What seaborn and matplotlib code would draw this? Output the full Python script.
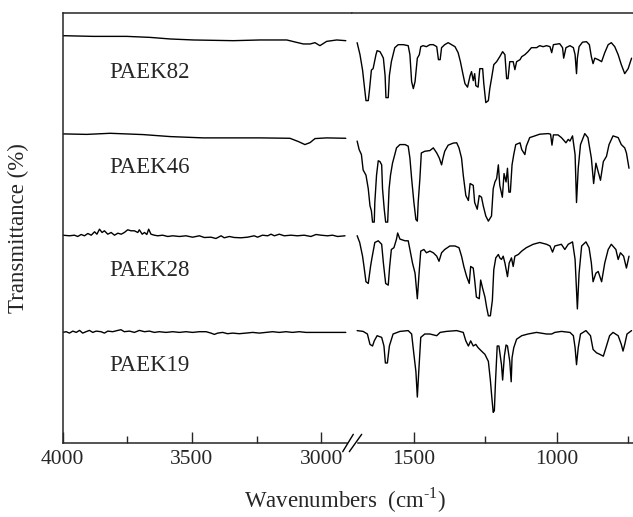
import pandas as pd
import matplotlib.pyplot as plt
from matplotlib.lines import Line2D
from matplotlib.ticker import MultipleLocator
import seaborn as sns

# FTIR spectra of four PAEK samples.
# Left panel: 4000-2900 cm-1, right panel: 1700-740 cm-1.
SAMPLES = ["PAEK82", "PAEK46", "PAEK28", "PAEK19"]
OFFSETS = [306, 211, 108, 12]          # vertical stacking of the spectra
LABEL_Y = [371, 276, 173, 78]

# --- high wavenumber region ---
wn_hi_82 = [4000, 3881, 3752, 3662, 3584, 3494, 3340, 3237, 3133, 3095, 3069, 3043, 3024, 3005, 2979, 2940, 2905]
t_hi_82 = [102, 101.3, 101.3, 100.3, 98.7, 97.7, 97, 97.7, 97.7, 95.3, 93.7, 93.7, 95, 92, 96.3, 97.7, 97]

wn_hi_46 = [4000, 3906, 3816, 3688, 3584, 3456, 3237, 3121, 3088, 3063, 3043, 3024, 2979, 2905]
t_hi_46 = [98.7, 98.2, 99.3, 98, 96, 94.7, 94.7, 94.3, 91, 88, 90, 94, 94.7, 94.3]

wn_hi_28 = [3999, 3973, 3954, 3941, 3928, 3915, 3902, 3889, 3876, 3867, 3857, 3847, 3838, 3825,
            3812, 3799, 3786, 3773, 3761, 3748, 3735, 3722, 3709, 3703, 3692, 3683, 3674, 3667,
            3658, 3645, 3632, 3613, 3593, 3574, 3548, 3523, 3497, 3471, 3452, 3426, 3407, 3387,
            3375, 3355, 3336, 3310, 3285, 3259, 3246, 3227, 3207, 3194, 3181, 3162, 3143, 3117,
            3092, 3066, 3040, 3020, 3001, 2976, 2956, 2937, 2908]
t_hi_28 = [100.3, 99.7, 100.3, 99, 101, 99.7, 102, 100.3, 103.7, 101.3, 106.3, 103, 104.7, 101.3,
           103, 100.3, 102.3, 101.3, 103, 105.7, 104.7, 104.7, 103, 105.7, 101.3, 103, 101, 106.3,
           101.3, 100.3, 99.7, 100.3, 99, 99.7, 99, 99.7, 98.3, 99.7, 98, 98.3, 97, 99.7,
           97.7, 99, 98, 97.7, 98.3, 99.7, 98.3, 100.3, 99.7, 101.3, 99.7, 101.3, 99.7, 100.3,
           99.7, 100.3, 99, 101, 100.3, 99.7, 100.3, 99, 99.7]

wn_hi_19 = [3999, 3986, 3973, 3960, 3947, 3934, 3922, 3909, 3896, 3883, 3870, 3851, 3838, 3825,
            3806, 3786, 3774, 3761, 3741, 3722, 3703, 3683, 3664, 3645, 3626, 3600, 3574, 3548,
            3523, 3497, 3471, 3445, 3426, 3413, 3400, 3381, 3362, 3342, 3317, 3291, 3265, 3239,
            3214, 3188, 3162, 3136, 3111, 3085, 3059, 3033, 2982, 2905]
t_hi_19 = [99, 99.7, 98.3, 100.3, 99, 101, 98.3, 99.7, 101, 99, 100.3, 99.7, 98.3, 100.3,
           99.7, 101, 101.7, 99.7, 100.3, 99, 101, 99.7, 100.3, 99, 99.7, 99, 99.7, 99,
           99.7, 99, 99.7, 99.7, 98.3, 97, 98.3, 99, 97.7, 98.3, 97.7, 98.3, 99, 98.3,
           99, 99.7, 99, 99.7, 99, 99.7, 99, 99, 99, 99]

# --- fingerprint region ---
wn_lo_82 = [1699, 1689, 1680, 1672, 1668, 1660, 1656, 1649, 1643, 1633, 1629, 1619, 1613, 1607,
            1601, 1598, 1590, 1586, 1579, 1573, 1567, 1555, 1537, 1520, 1514, 1508, 1502, 1496,
            1488, 1481, 1476, 1468, 1456, 1444, 1432, 1420, 1414, 1408, 1403, 1392, 1380, 1368,
            1356, 1345, 1337, 1327, 1321, 1312, 1303, 1298, 1292, 1287, 1283, 1275, 1269, 1259,
            1255, 1248, 1239, 1234, 1228, 1220, 1210, 1199, 1189, 1181, 1175, 1170, 1164, 1152,
            1146, 1140, 1128, 1122, 1111, 1100, 1088, 1070, 1059, 1047, 1035, 1023, 1017, 1011,
            989, 979, 975, 967, 953, 941, 935, 930, 927, 921, 909, 895, 885, 878, 872, 866,
            854, 842, 831, 819, 808, 796, 784, 773, 761, 749, 737]
t_lo_82 = [95, 83, 67.6, 47, 37, 37, 47, 67.6, 69, 83, 87, 86, 83, 79.5,
           62, 40, 40, 62, 76, 83, 90, 93, 93, 92, 83, 56, 49, 56,
           79.5, 83, 91, 92, 91, 93, 93, 91, 78, 78, 90, 93, 95, 93,
           91, 85, 76, 62, 54, 50.5, 62, 66, 57, 64, 52, 50.5, 69, 69,
           54, 35, 37, 49, 59, 73, 76, 81, 86, 83, 59, 59, 76, 76,
           68, 76, 78, 81, 83, 86, 90, 90, 92, 91, 92, 91, 85, 93,
           94, 90, 79.5, 90, 92, 90, 83, 64, 79.5, 91, 95.5, 96, 93, 81, 74, 79.5,
           78, 76, 85, 93, 95, 91, 83, 73, 64, 69, 79.5]

wn_lo_46 = [1699, 1692, 1684, 1678, 1668, 1660, 1654, 1649, 1645, 1639, 1637, 1631, 1625, 1619,
            1613, 1610, 1604, 1599, 1592, 1587, 1582, 1575, 1567, 1561, 1549, 1531, 1520, 1514,
            1508, 1500, 1493, 1488, 1485, 1479, 1474, 1462, 1444, 1432, 1420, 1411, 1403, 1398,
            1392, 1380, 1362, 1350, 1342, 1333, 1327, 1318, 1309, 1303, 1292, 1287, 1278, 1271,
            1263, 1257, 1248, 1239, 1228, 1222, 1216, 1210, 1204, 1199, 1190, 1184, 1177, 1172,
            1167, 1162, 1156, 1150, 1143, 1128, 1122, 1111, 1106, 1094, 1076, 1059, 1029, 1021,
            1016, 1011, 995, 983, 967, 959, 953, 944, 935, 930, 924, 916, 901, 890, 878, 870,
            862, 854, 846, 836, 825, 816, 802, 784, 773, 761, 755, 746]
t_lo_46 = [91.5, 83, 78, 62.6, 57.4, 43.8, 26.8, 21.6, 10.4, 10.4, 30, 57.4, 71.8, 71,
           67.7, 43.8, 23.3, 10.4, 10.4, 43.8, 57.4, 69.4, 78, 84.7, 88, 88, 86.4, 74.5,
           54, 30, 13, 11.4, 30, 54, 79.6, 81.3, 82, 84.7, 79.6, 74.5, 67.7, 74.5,
           81.3, 87.4, 89.5, 89.8, 84.7, 74.5, 57.4, 37, 32, 49, 47.2, 30, 23.3, 37,
           35.3, 26.8, 16.5, 11.4, 16.5, 43.8, 50.6, 54, 67.7, 47.2, 35.3, 59, 50.6, 64.3,
           40.4, 40.4, 67.7, 78, 88, 89.8, 83, 78, 86.4, 95, 96.7, 98.4, 99, 98.4,
           87.4, 97.7, 97.7, 95, 89.8, 93.2, 91.5, 96.7, 78, 30, 64.3, 88, 99, 95, 74.5, 49,
           69.4, 60.8, 52.3, 71, 76.2, 88, 96.7, 95, 88, 84.7, 79.6, 64.3]

wn_lo_28 = [1699, 1690, 1680, 1675, 1668, 1660, 1652, 1647, 1637, 1625, 1613, 1607, 1599, 1590,
            1585, 1579, 1570, 1561, 1557, 1549, 1531, 1520, 1514, 1505, 1496, 1488, 1481, 1476,
            1465, 1456, 1444, 1432, 1420, 1412, 1403, 1392, 1374, 1356, 1342, 1333, 1325, 1315,
            1306, 1301, 1292, 1287, 1281, 1271, 1266, 1259, 1251, 1245, 1239, 1232, 1225, 1220,
            1213, 1204, 1199, 1193, 1187, 1181, 1172, 1166, 1158, 1152, 1146, 1134, 1122, 1106,
            1082, 1059, 1035, 1023, 1014, 1006, 983, 971, 959, 944, 935, 930, 927, 921,
            912, 897, 886, 878, 872, 862, 854, 842, 831, 819, 808, 792, 784, 776, 765, 755, 746]
t_lo_28 = [99.8, 93, 79.3, 69, 53.7, 52, 69, 77.6, 93, 94.7, 91.2, 72.5, 52, 50.3,
           69, 86, 87.8, 96.4, 102.5, 96.4, 94.7, 94.7, 86, 72.5, 62.3, 36.7, 65.7, 84.4,
           86, 82.7, 84.4, 82.7, 79.3, 74.2, 82.7, 86, 89.5, 89.5, 87.8, 79.3, 69, 58.8,
           52, 69, 67.4, 55.4, 38.4, 36.7, 55.4, 47, 38.4, 28, 19.6, 19.6, 35, 65.7,
           77.6, 81, 77.6, 76, 79.3, 72.5, 58.8, 72.5, 77.6, 69, 79.3, 81, 84.4, 87.8,
           91.2, 93, 91.2, 89.5, 83.4, 89.5, 91.2, 86, 91.2, 93.6, 76, 45.2, 26.5, 62.3,
           89.5, 93.6, 87.8, 72.5, 53.7, 62.3, 64, 53.7, 72.5, 86, 91.2, 86, 76, 82.7, 79.3, 67.4, 79.3]

wn_lo_19 = [1699, 1678, 1663, 1654, 1645, 1639, 1629, 1613, 1605, 1600, 1593, 1586, 1573, 1549,
            1520, 1508, 1500, 1493, 1488, 1483, 1476, 1462, 1444, 1420, 1408, 1386, 1350, 1327,
            1318, 1309, 1301, 1292, 1283, 1275, 1263, 1251, 1239, 1232, 1227, 1222, 1218, 1214,
            1208, 1202, 1193, 1189, 1183, 1177, 1172, 1164, 1159, 1156, 1150, 1140, 1122, 1100,
            1070, 1035, 1017, 1006, 983, 953, 941, 935, 930, 924, 916, 897, 881, 872, 860, 848,
            836, 825, 814, 802, 784, 773, 767, 761, 753, 737]
t_lo_19 = [100.8, 100, 97.4, 87, 85.4, 90.5, 95.7, 94, 85.4, 68.4, 68.4, 85.4, 97.4, 100,
           100.8, 97.4, 77, 59.8, 34.3, 59.8, 94, 97.4, 97.4, 95.7, 99, 100, 100.8, 99,
           90.5, 85.4, 90.5, 85.4, 87, 83.7, 80.3, 77, 70, 51.3, 34.3, 19, 20.6, 49.6,
           85.4, 85.4, 66.7, 51.3, 75.2, 86.4, 85.4, 70, 49.6, 73.5, 83.7, 92.2, 95.7, 97.4,
           99, 97.4, 97.4, 99, 100, 99, 95.7, 83.7, 66.7, 83.7, 97.4, 100.8, 95.7, 82, 78.6, 77,
           75.2, 85.4, 95.7, 99, 95.7, 87, 80.3, 87, 97.4, 100.8]

HI = {"PAEK82": (wn_hi_82, t_hi_82), "PAEK46": (wn_hi_46, t_hi_46),
      "PAEK28": (wn_hi_28, t_hi_28), "PAEK19": (wn_hi_19, t_hi_19)}
LO = {"PAEK82": (wn_lo_82, t_lo_82), "PAEK46": (wn_lo_46, t_lo_46),
      "PAEK28": (wn_lo_28, t_lo_28), "PAEK19": (wn_lo_19, t_lo_19)}


def build_frame(region):
    """Long-form table with the spectra stacked by their offsets."""
    rows = []
    for name, off in zip(SAMPLES, OFFSETS):
        wn, t = region[name]
        rows.append(pd.DataFrame({"wn": wn, "T": [v + off for v in t], "sample": name}))
    return pd.concat(rows, ignore_index=True)


sns.set_style("ticks")
plt.rcParams["font.family"] = ["Liberation Serif", "DejaVu Serif"]
plt.rcParams["mathtext.fontset"] = "custom"
plt.rcParams["mathtext.rm"] = "Liberation Serif"

fig = plt.figure(figsize=(6.33, 5.17), dpi=100)
W, H = 633, 517
bottom, height = 1 - 443.3 / H, 430.6 / H
ax1 = fig.add_axes([62.5 / W, bottom, (352 - 62.5) / W, height])
ax2 = fig.add_axes([352 / W, bottom, (633 - 352) / W, height])

for ax, region in ((ax1, HI), (ax2, LO)):
    sns.lineplot(data=build_frame(region), x="wn", y="T", units="sample", estimator=None,
                 color="black", linewidth=1.0, ax=ax)
    ax.set_ylim(0, 431)
    ax.set_yticks([])
    ax.set_xlabel("")
    ax.set_ylabel("")
    ax.spines["right"].set_visible(False)
    ax.tick_params(axis="x", which="major", direction="in", length=8, width=1, labelsize=15.5, pad=5)
    ax.tick_params(axis="x", which="minor", direction="in", length=5, width=1)
    for s in ("top", "bottom", "left"):
        ax.spines[s].set_linewidth(1.1)

ax1.set_xlim(4000, 2881)
ax1.xaxis.set_major_locator(MultipleLocator(500))
ax1.xaxis.set_minor_locator(MultipleLocator(250))
ax1.spines["bottom"].set_bounds(4000, 2902)

ax2.set_xlim(1717, 732)
ax2.xaxis.set_major_locator(MultipleLocator(500))
ax2.xaxis.set_minor_locator(MultipleLocator(250))
ax2.spines["left"].set_visible(False)
ax2.spines["bottom"].set_bounds(1695, 732)

for name, y in zip(SAMPLES, LABEL_Y):
    ax1.text(3820, y, name, fontsize=16.5, va="center", ha="left")

# axis break marks "//"
for x0, x1 in ((342.7, 353.3), (349.3, 361.7)):
    fig.add_artist(Line2D([x0 / W, x1 / W], [1 - 451.7 / H, 1 - 434.3 / H],
                          transform=fig.transFigure, color="black", linewidth=1.0))

fig.text(345 / W, 1 - 500 / H, r"Wavenumbers  (cm$^{\text{-1}}$)", fontsize=16.5,
         ha="center", va="center")
fig.text(18 / W, 1 - 228 / H, "Transmittance (%)", fontsize=16.5, rotation=90,
         ha="center", va="center")

fig.savefig("out.png", dpi=100)
